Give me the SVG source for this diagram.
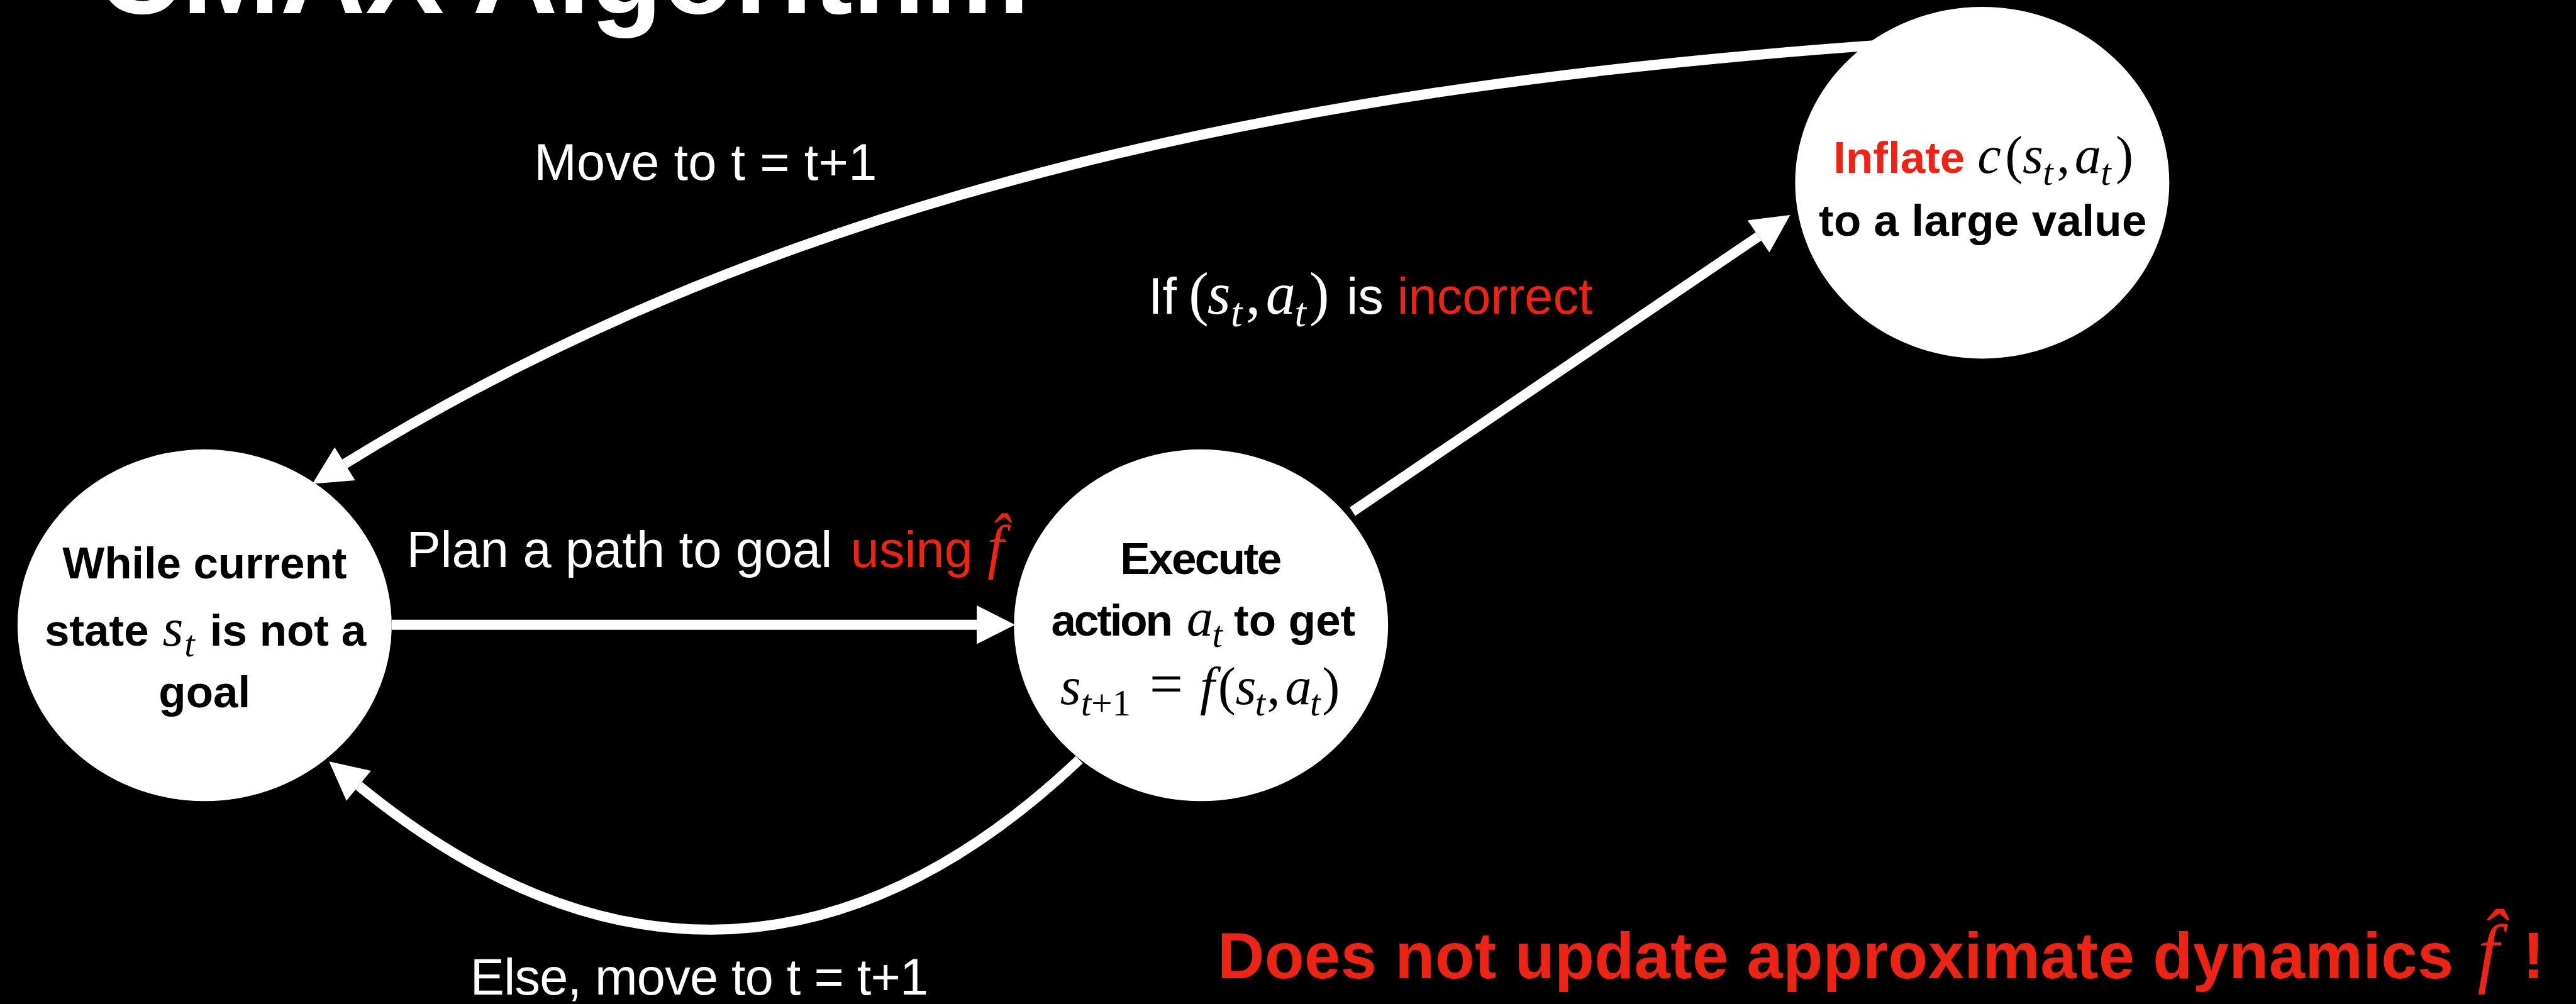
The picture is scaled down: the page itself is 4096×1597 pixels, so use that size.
<svg xmlns="http://www.w3.org/2000/svg" width="4096" height="1597" viewBox="0 0 4096 1597">
<defs>
<style>
text{font-family:"Liberation Sans",Arial,sans-serif}
.b{font-weight:700}
.m{font-family:"Liberation Serif","Times New Roman",serif;font-style:italic;font-weight:400}
.u{font-style:normal}
.node ellipse{fill:#fff}
.node text{fill:#000;font-size:84px;font-weight:700}
.lbl{fill:#fff;font-size:96px}
.red{fill:#EC2416}
.conn{fill:none;stroke:#fff;stroke-width:19;marker-end:url(#ah)}
</style>
<marker id="ah" markerUnits="userSpaceOnUse" markerWidth="80" markerHeight="80" viewBox="0 -40 80 80" refX="0" refY="0" orient="auto" overflow="visible">
<path d="M0,-36.5 L72,0 L0,36.5 Z" fill="#fff"/>
</marker>
</defs>
<rect x="0" y="0" width="4096" height="1597" fill="#000"/>
<g transform="scale(0.845)">
<text id="title" x="182" y="25" class="b" font-size="221" fill="#fff" textLength="1755" lengthAdjust="spacingAndGlyphs">CMAX Algorithm</text>

<g id="connectors">
<path class="conn" d="M737,1176 H1838"/>
<path class="conn" d="M2545,963 L3309,445"/>
<path class="conn" d="M3534,85 C2487,160 1499,347 649,873"/>
<path class="conn" d="M2031,1430 C1568,1868 1103,1829 675,1479"/>
</g>

<g id="edge-labels">
<text class="lbl" y="1068"><tspan x="765" textLength="801">Plan a path to goal</tspan><tspan x="1601" class="red">using</tspan><tspan x="1858" class="m red" font-size="112">f̂</tspan></text>
<text class="lbl" y="590"><tspan x="2161">If</tspan><tspan x="2237" class="m u" font-size="112">(</tspan><tspan x="2272" class="m" font-size="112">s</tspan><tspan x="2316" y="614" class="m" font-size="78">t</tspan><tspan x="2344" y="590" class="m u" font-size="112">,</tspan><tspan x="2382" class="m" font-size="112">a</tspan><tspan x="2436" y="614" class="m" font-size="78">t</tspan><tspan x="2464" y="590" class="m u" font-size="112">)</tspan><tspan x="2534">is</tspan><tspan x="2629" class="red">incorrect</tspan></text>
<text class="lbl" x="1005" y="338" textLength="645">Move to t = t+1</text>
<text class="lbl" x="885" y="1872" textLength="862">Else, move to t = t+1</text>
</g>

<g id="node-start" class="node">
<ellipse cx="385" cy="1177" rx="352" ry="331"/>
<text x="385" y="1089" text-anchor="middle" textLength="535">While current</text>
<text y="1215"><tspan x="84">state</tspan><tspan x="306" class="m" font-size="100">s</tspan><tspan x="347" y="1236" class="m" font-size="70">t</tspan><tspan x="395" y="1215">is not a</tspan></text>
<text x="385" y="1331" text-anchor="middle">goal</text>
</g>

<g id="node-execute" class="node">
<ellipse cx="2260" cy="1177" rx="352" ry="331"/>
<text x="2260" y="1080" text-anchor="middle" textLength="304">Execute</text>
<text y="1197"><tspan x="1978" textLength="229">action</tspan><tspan x="2233" class="m" font-size="100">a</tspan><tspan x="2281" y="1218" class="m" font-size="70">t</tspan><tspan x="2322" y="1197">to get</tspan></text>
<text y="1326"><tspan x="1995" class="m" font-size="100">s</tspan><tspan x="2034" y="1347" class="m" font-size="70">t</tspan><tspan class="m u" font-size="70">+1</tspan><tspan x="2163" y="1326" class="m u" font-size="112">=</tspan><tspan x="2258" class="m" font-size="100">f</tspan><tspan x="2292" class="m u" font-size="100">(</tspan><tspan x="2325" class="m" font-size="100">s</tspan><tspan x="2362" y="1347" class="m" font-size="70">t</tspan><tspan x="2384" y="1326" class="m u" font-size="100">,</tspan><tspan x="2418" class="m" font-size="100">a</tspan><tspan x="2465" y="1347" class="m" font-size="70">t</tspan><tspan x="2488" y="1326" class="m u" font-size="100">)</tspan></text>
</g>

<g id="node-inflate" class="node">
<ellipse cx="3730" cy="344" rx="352" ry="331"/>
<text y="326"><tspan x="3450" class="red">Inflate</tspan><tspan x="3721" class="m" font-size="100">c</tspan><tspan x="3773" class="m u" font-size="100">(</tspan><tspan x="3806" class="m" font-size="100">s</tspan><tspan x="3844" y="348" class="m" font-size="70">t</tspan><tspan x="3870" y="326" class="m u" font-size="100">,</tspan><tspan x="3904" class="m" font-size="100">a</tspan><tspan x="3953" y="348" class="m" font-size="70">t</tspan><tspan x="3981" y="326" class="m u" font-size="100">)</tspan></text>
<text x="3731" y="444" text-anchor="middle" textLength="617">to a large value</text>
</g>

<g id="note">
<text y="1842" class="b red" font-size="122"><tspan x="2291" textLength="2326">Does not update approximate dynamics</tspan><tspan x="4662" class="m" font-size="145">f̂</tspan><tspan x="4747">!</tspan></text>
</g>
</g>
</svg>
